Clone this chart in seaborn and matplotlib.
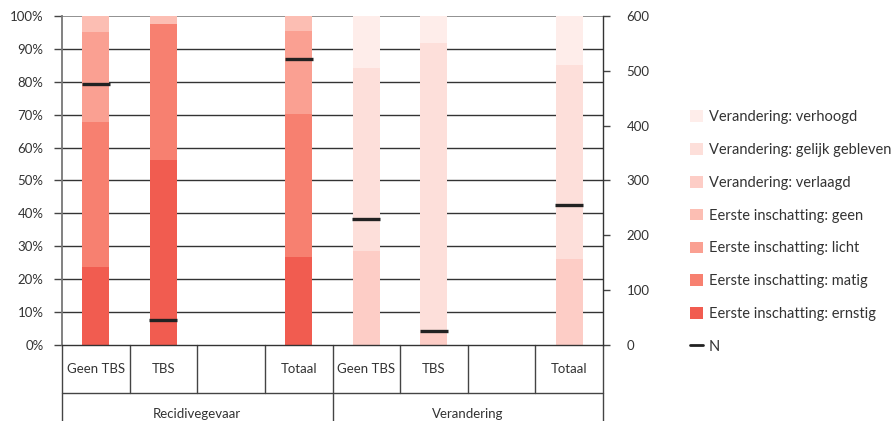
import numpy as np
import pandas as pd
import matplotlib
matplotlib.use("Agg")
import matplotlib.pyplot as plt
import seaborn as sns
from matplotlib.patches import Patch
from matplotlib.lines import Line2D

# ---------------- data ----------------
slots = ["R_Geen TBS", "R_TBS", "R_leeg", "R_Totaal", "V_Geen TBS", "V_TBS", "V_leeg", "V_Totaal"]
slot_labels = ["Geen TBS", "TBS", "", "Totaal", "Geen TBS", "TBS", "", "Totaal"]
groups = ["Recidivegevaar", "Verandering"]

# Recidivegevaar (eerste inschatting), percentages
ernstig = [23.8, 56.2, 0, 26.7, 0, 0, 0, 0]
matig   = [44.0, 41.5, 0, 43.6, 0, 0, 0, 0]
licht   = [27.4, 0.0, 0, 25.2, 0, 0, 0, 0]
geen    = [4.8, 2.3, 0, 4.5, 0, 0, 0, 0]
# Verandering, percentages
verlaagd = [0, 0, 0, 0, 28.7, 3.5, 0, 26.1]
gelijk   = [0, 0, 0, 0, 55.5, 88.3, 0, 59.0]
verhoogd = [0, 0, 0, 0, 15.8, 8.2, 0, 14.9]
# N (right axis)
N = [476, 46, np.nan, 522, 230, 25, np.nan, 255]

layers = [
    ("Eerste inschatting: ernstig", ernstig, "#F15C50"),
    ("Eerste inschatting: matig", matig, "#F78070"),
    ("Eerste inschatting: licht", licht, "#FAA092"),
    ("Eerste inschatting: geen", geen, "#FCBEB3"),
    ("Verandering: verlaagd", verlaagd, "#FDCDC6"),
    ("Verandering: gelijk gebleven", gelijk, "#FDDFDA"),
    ("Verandering: verhoogd", verhoogd, "#FEEDEA"),
]

# ---------------- style ----------------
sns.set_theme(style="white")
plt.rcParams["font.family"] = ["Lato", "DejaVu Sans"]
plt.rcParams["font.size"] = 9.5
text_color = "#333333"

fig = plt.figure(figsize=(8.93, 4.21), dpi=100)
ax = fig.add_axes([62 / 893, 1 - 345 / 421, (603 - 62) / 893, 329 / 421])

# gridlines
for v in range(10, 100, 10):
    ax.axhline(v, color="#333333", lw=1.0, zorder=0)
ax.axhline(100, color="#888888", lw=1.3, zorder=0)

# stacked bars: draw cumulative tops, largest first
vals = np.array([l[1] for l in layers], dtype=float)
cum = np.cumsum(vals, axis=0)
for i in range(len(layers) - 1, -1, -1):
    name, _, col = layers[i]
    df = pd.DataFrame({"slot": slots, "value": cum[i]})
    sns.barplot(data=df, x="slot", y="value", order=slots, color=col,
                width=0.4, linewidth=0, saturation=1, ax=ax, zorder=2)

ax.set_xlim(-0.5, len(slots) - 0.5)
ax.set_ylim(0, 100)
ax.set_yticks(range(0, 101, 10))
ax.set_yticklabels([f"{v}%" for v in range(0, 101, 10)], color=text_color)
ax.set_xticks([])
ax.set_xlabel("")
ax.set_ylabel("")
ax.tick_params(axis="y", length=5.8, width=1, color="#444444", pad=7.5, labelsize=9.5)
for s in ["top", "right"]:
    ax.spines[s].set_visible(False)
ax.spines["left"].set_color("#777777")
ax.spines["left"].set_linewidth(1.3)
ax.spines["bottom"].set_color("#333333")
ax.spines["bottom"].set_linewidth(1.0)

# right axis with N
ax2 = ax.twinx()
pos = {s: i for i, s in enumerate(slots)}
ndf = pd.DataFrame({"x": [pos[s] for s in slots], "N": N}).dropna()
sns.scatterplot(data=ndf, x="x", y="N", marker="_", s=380, linewidth=2.4,
                color="#222222", ax=ax2, zorder=5, legend=False)
ax2.set_ylim(0, 600)
ax2.set_yticks(range(0, 601, 100))
ax2.set_yticklabels([str(v) for v in range(0, 601, 100)], color=text_color)
ax2.set_ylabel("")
ax2.set_xlim(-0.5, len(slots) - 0.5)
ax2.tick_params(axis="y", length=5, width=1, color="#444444", pad=12, labelsize=9.5)
for s in ["top", "left", "bottom"]:
    ax2.spines[s].set_visible(False)
ax2.spines["right"].set_color("#333333")
ax2.spines["right"].set_linewidth(1.0)

# category table below
trans = matplotlib.transforms.blended_transform_factory(ax.transData, ax.transAxes)
row1 = -48 / 329
row2 = -0.30
lc = "#444444"
for i in range(len(slots) + 1):
    x = i - 0.5
    bottom = row2 if i in (0, 4, 8) else row1
    ax.plot([x, x], [0, bottom], transform=trans, color=lc, lw=1.0, clip_on=False)
ax.plot([-0.5, len(slots) - 0.5], [row1, row1], transform=trans, color=lc, lw=1.0, clip_on=False)
for i, lab in enumerate(slot_labels):
    ax.text(i, row1 / 2, lab, transform=trans, ha="center", va="center",
            fontsize=9.5, color=text_color)
for g, name in enumerate(groups):
    ax.text(g * 4 + 1.5, -69 / 329, name, transform=trans, ha="center", va="center",
            fontsize=9.5, color=text_color)

# legend
handles = [Patch(facecolor=c, edgecolor="none", label=n) for n, _, c in layers[::-1]]
handles.append(Line2D([0], [0], color="#222222", lw=2, label="N"))
fig.legend(handles=handles, loc="upper left", bbox_to_anchor=(677 / 893, 1 - 97 / 421),
           frameon=False, fontsize=10.5, handlelength=0.85, handleheight=0.85,
           handletextpad=0.45, labelspacing=1.29, labelcolor=text_color)

fig.savefig("out.png", dpi=100)
